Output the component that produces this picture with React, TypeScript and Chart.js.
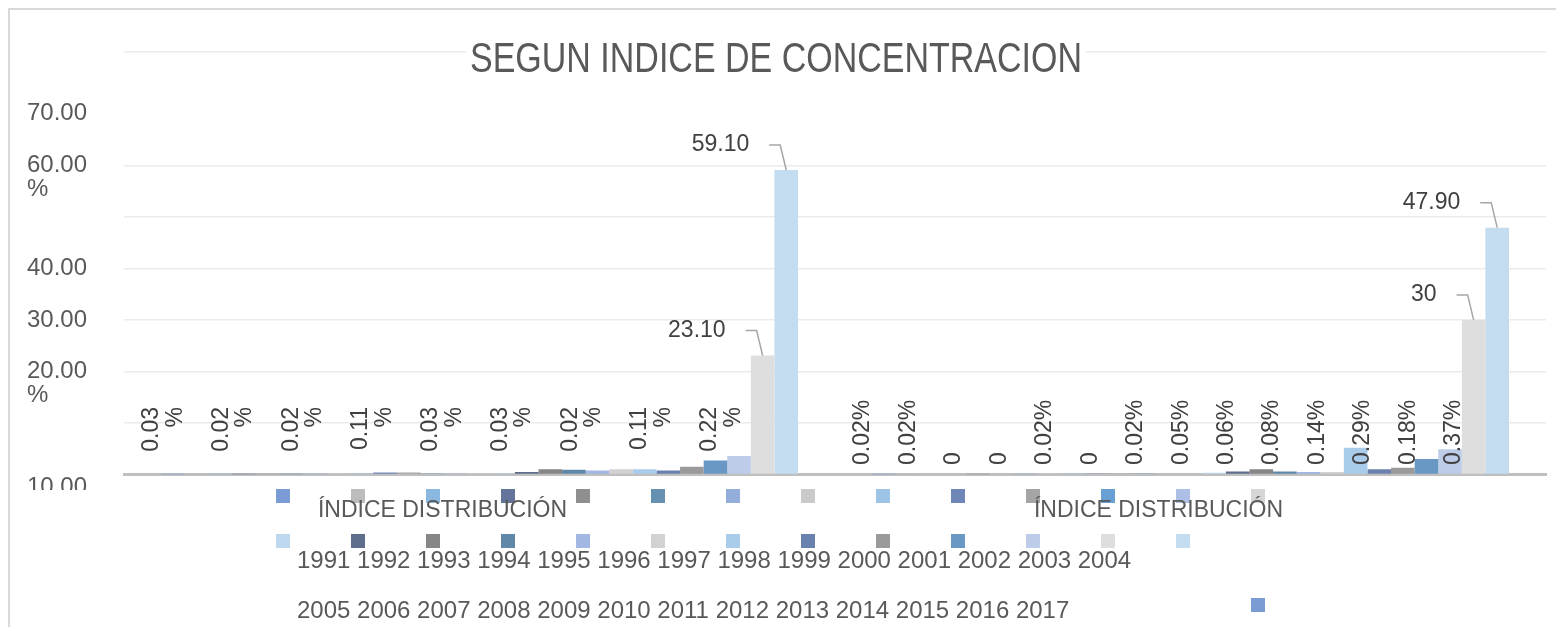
import React, { useEffect, useRef } from "react";
import { Chart, registerables } from "chart.js";

Chart.register(...registerables);

const TITLE = "SEGUN INDICE DE CONCENTRACION";
const CATEGORIES = ["ÍNDICE DISTRIBUCIÓN", "ÍNDICE DISTRIBUCIÓN"];
const YEARS = [
  "1991", "1992", "1993", "1994", "1995", "1996", "1997", "1998", "1999",
  "2000", "2001", "2002", "2003", "2004", "2005", "2006", "2007", "2008",
  "2009", "2010", "2011", "2012", "2013", "2014", "2015", "2016", "2017",
];
const GROUP1_VALUES = [
  0.02, 0.02, 0.03, 0.02, 0.03, 0.02, 0.05, 0.1, 0.05, 0.4, 0.4, 0.2, 0.05, 0.05,
  0.05, 0.5, 1.0, 0.9, 0.8, 1.0, 1.0, 0.8, 1.5, 2.7, 3.6, 23.1, 59.1,
];
const GROUP2_VALUES = [
  0.02, 0.02, 0, 0, 0.02, 0, 0.02, 0.05, 0.06, 0.08, 0.1, 0.1, 0.15, 0.15,
  0.35, 0.6, 1.0, 0.6, 0.5, 0.5, 5.2, 1.0, 1.3, 3.0, 4.9, 30, 47.9,
];
const SERIES_COLORS = [
  "#7B9BD5", "#BDBDBD", "#8BB8E0", "#64749A", "#8F8F8F", "#6690B0", "#94AEDC",
  "#CACACA", "#9DC3E6", "#6F87B8", "#A5A5A5", "#69A1D4", "#AEBFE5", "#D6D6D6",
  "#BDD7EE", "#5F6E8C", "#868686", "#5F88A8", "#A2B8E2", "#D2D2D2", "#AACCEB",
  "#6A80AD", "#9A9A9A", "#6A98C5", "#BCCCE9", "#DEDEDE", "#C4DCF0",
];
const GROUP1_SMALL_LABELS = ["0.03 %", "0.02 %", "0.02 %", "0.11 %", "0.03 %", "0.03 %", "0.02 %", "0.11 %", "0.22 %"];
const GROUP2_SMALL_LABELS = ["0.02%", "0.02%", "0", "0", "0.02%", "0", "0.02%", "0.05%", "0.06%", "0.08%", "0.14%", "0.29%", "0.18%", "0.37%"];
const GROUP1_BIG_LABELS = ["23.10", "59.10"];
const GROUP2_BIG_LABELS = ["30", "47.90"];
const Y_TICK_VALUES = [0, 10, 20, 30, 40, 50, 60, 70, 82];
const Y_HIDDEN_GRID = [0, 70];
const Y_LABEL_VALUES = [70, 60, 40, 30, 20];
const Y_LABEL_TEXTS = ["70.00", "60.00 %", "40.00", "30.00", "20.00 %"];
const Y_BOTTOM_LABEL = "10.00";

const FONT = '"Liberation Sans", Arial, Helvetica, sans-serif';
const TEXT = "#595959";
const LABEL = "#404040";
const CAT_SHIFT = [-37, -32];

const overlay = {
  id: "overlay",
  beforeDraw(chart: any) {
    const { ctx, width, height } = chart;
    ctx.save();
    ctx.fillStyle = "#ffffff";
    ctx.fillRect(0, 0, width, height);
    ctx.fillStyle = "#D9D9D9";
    ctx.fillRect(0, 0, width, 2);
    ctx.fillRect(0, 0, 2, height);
    ctx.restore();
  },
  afterDatasetsDraw(chart: any) {
    const { ctx } = chart;
    const xs = chart.scales.x;
    const ys = chart.scales.y;
    const base = ys.getPixelForValue(0);
    ctx.save();
    ctx.fillStyle = LABEL;
    ctx.font = `23px ${FONT}`;
    ctx.textBaseline = "middle";

    const c1 = xs.getPixelForValue(0) + CAT_SHIFT[0];
    GROUP1_SMALL_LABELS.forEach((t, k) => {
      const cx = c1 + (k - (GROUP1_SMALL_LABELS.length - 1) / 2) * 69.75;
      const lines = t.split(" ");
      lines.forEach((ln, li) => {
        ctx.save();
        ctx.translate(cx + (li - (lines.length - 1) / 2) * 23.5, base - 67.5);
        ctx.rotate(-Math.PI / 2);
        ctx.textAlign = "right";
        ctx.fillText(ln, 0, 0);
        ctx.restore();
      });
    });

    const c2 = xs.getPixelForValue(1) + CAT_SHIFT[1];
    GROUP2_SMALL_LABELS.forEach((t, k) => {
      const cx = c2 + (k - (GROUP2_SMALL_LABELS.length - 1) / 2) * 45.46;
      ctx.save();
      ctx.translate(cx, base - 9.5);
      ctx.rotate(-Math.PI / 2);
      ctx.textAlign = "left";
      ctx.fillText(t, 0, 0);
      ctx.restore();
    });

    const n = chart.data.datasets.length;
    [GROUP1_BIG_LABELS, GROUP2_BIG_LABELS].forEach((labels, c) => {
      labels.forEach((t, m) => {
        const bar = chart.getDatasetMeta(n - labels.length + m).data[c];
        if (!bar) return;
        const bx = bar.x;
        const by = bar.y;
        ctx.strokeStyle = "#A6A6A6";
        ctx.lineWidth = 1.5;
        ctx.beginPath();
        ctx.moveTo(bx - 17, by - 25);
        ctx.lineTo(bx - 6, by - 25);
        ctx.lineTo(bx, by);
        ctx.stroke();
        ctx.textAlign = "right";
        ctx.fillText(t, bx - 37, by - 25);
      });
    });
    ctx.restore();
  },
  afterDraw(chart: any) {
    const { ctx, width } = chart;
    const xs = chart.scales.x;
    const ys = chart.scales.y;
    const base = ys.getPixelForValue(0);
    ctx.save();

    // title
    ctx.font = `42px ${FONT}`;
    const tw = ctx.measureText(TITLE).width;
    const sx = 612 / tw;
    const tcx = 768;
    ctx.fillStyle = "#ffffff";
    ctx.fillRect(tcx - 310, 36, 620, 30);
    ctx.fillStyle = TEXT;
    ctx.translate(tcx, 64);
    ctx.scale(sx, 1);
    ctx.textAlign = "center";
    ctx.textBaseline = "alphabetic";
    ctx.fillText(TITLE, 0, 0);
    ctx.restore();

    // y labels
    ctx.save();
    ctx.fillStyle = TEXT;
    ctx.font = `24px ${FONT}`;
    ctx.textAlign = "left";
    ctx.textBaseline = "middle";
    Y_LABEL_VALUES.forEach((v, i) => {
      const yy = ys.getPixelForValue(v);
      Y_LABEL_TEXTS[i].split(" ").forEach((ln, li) => {
        ctx.fillText(ln, 19, yy + li * 24);
      });
    });
    ctx.save();
    ctx.beginPath();
    ctx.rect(0, 0, width, base + 15.5);
    ctx.clip();
    ctx.fillText(Y_BOTTOM_LABEL, 19, base + 12.5);
    ctx.restore();

    // legend squares
    const colors = chart.data.datasets.map((d: any) => d.backgroundColor);
    const squares = [...colors, colors[0]];
    squares.forEach((col: string, i: number) => {
      let sxp: number;
      let syp: number;
      if (i < 14) {
        sxp = 268 + i * 75;
        syp = 481;
      } else if (i < 27) {
        sxp = 268 + (i - 14) * 75;
        syp = 526;
      } else {
        sxp = 1243;
        syp = 590;
      }
      ctx.fillStyle = col;
      ctx.fillRect(sxp, syp, 14, 14);
    });

    // category labels
    ctx.fillStyle = TEXT;
    ctx.font = `23px ${FONT}`;
    ctx.textAlign = "center";
    ctx.textBaseline = "alphabetic";
    CATEGORIES.forEach((c, i) => {
      ctx.fillText(c, xs.getPixelForValue(i) + CAT_SHIFT[i], 509);
    });

    // year rows
    ctx.font = `24px ${FONT}`;
    ctx.textAlign = "left";
    ctx.fillText(YEARS.slice(0, 14).join(" "), 289, 560);
    ctx.fillText(YEARS.slice(14).join(" "), 289, 610);
    ctx.restore();
  },
};

export default function App() {
  const ref = useRef<HTMLCanvasElement | null>(null);
  useEffect(() => {
    if (!ref.current) return;
    const datasets = YEARS.map((yr, i) => ({
      label: yr,
      data: [GROUP1_VALUES[i], GROUP2_VALUES[i]],
      backgroundColor: SERIES_COLORS[i],
      borderWidth: 0,
      categoryPercentage: 0.896,
      barPercentage: 1.0,
    }));
    const chart = new Chart(ref.current, {
      type: "bar",
      data: { labels: CATEGORIES, datasets },
      options: {
        animation: false,
        responsive: false,
        maintainAspectRatio: false,
        devicePixelRatio: 1,
        layout: { padding: { left: 116, right: 10, top: 44, bottom: 152.5 } },
        plugins: {
          legend: { display: false },
          title: { display: false },
          tooltip: { enabled: false },
        },
        scales: {
          x: {
            grid: { display: false },
            border: { display: true, color: "#BFBFBF", width: 3 },
            ticks: { display: false },
            afterFit: (s: any) => {
              s.height = 0;
            },
          },
          y: {
            min: 0,
            max: 82,
            afterBuildTicks: (s: any) => {
              s.ticks = Y_TICK_VALUES.map((v) => ({ value: v }));
            },
            grid: {
              drawTicks: false,
              lineWidth: 1.5,
              color: (c: any) =>
                c.tick && Y_HIDDEN_GRID.includes(c.tick.value) ? "rgba(0,0,0,0)" : "#EBEBEB",
            },
            border: { display: false },
            ticks: { display: false },
            afterFit: (s: any) => {
              s.width = 0;
            },
          },
        },
      },
      plugins: [overlay],
    } as any);
    return () => chart.destroy();
  }, []);
  return (
    <div style={{ width: 1548, height: 619 }}>
      <canvas ref={ref} width={1548} height={619} style={{ display: "block" }} />
    </div>
  );
}
